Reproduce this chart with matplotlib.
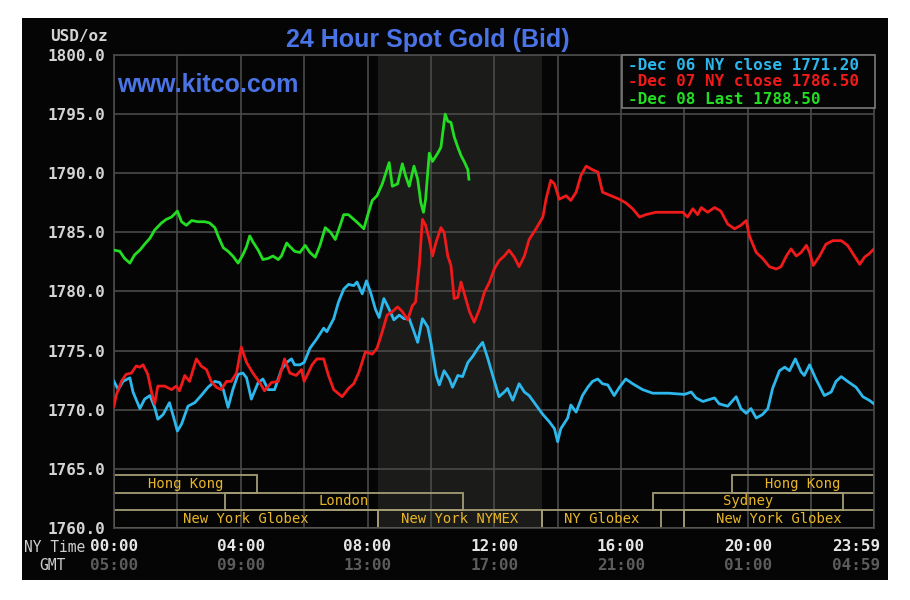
import matplotlib
matplotlib.use("Agg")
import matplotlib.pyplot as plt
from matplotlib.patches import Rectangle
from matplotlib import transforms

# Dec 06 NY close series (cyan)
dec06_times = ["00:00", "00:08", "00:17", "00:30", "00:36", "00:49", "00:58", "01:08", "01:17", "01:23",
               "01:33", "01:45", "01:52", "02:00", "02:08", "02:20", "02:33", "02:45", "02:58", "03:11",
               "03:20", "03:27", "03:36", "03:45", "03:55", "04:04", "04:11", "04:20", "04:33", "04:42",
               "04:52", "05:04", "05:17", "05:27", "05:36", "05:42", "05:52", "06:00", "06:11", "06:24",
               "06:37", "06:43", "06:56", "07:05", "07:15", "07:24", "07:34", "07:40", "07:50", "07:58",
               "08:06", "08:15", "08:22", "08:31", "08:41", "08:50", "09:00", "09:09", "09:19", "09:28",
               "09:35", "09:44", "09:54", "10:00", "10:10", "10:16", "10:25", "10:35", "10:41", "10:51",
               "11:00", "11:10", "11:19", "11:29", "11:38", "11:48", "11:57", "12:09", "12:19", "12:25",
               "12:35", "12:47", "12:57", "13:06", "13:19", "13:32", "13:44", "13:54", "14:00", "14:06",
               "14:19", "14:25", "14:35", "14:47", "14:57", "15:06", "15:16", "15:25", "15:35", "15:47",
               "15:57", "16:09", "16:22", "16:41", "17:00", "17:30", "18:00", "18:13", "18:22", "18:35",
               "18:57", "19:06", "19:22", "19:38", "19:47", "19:57", "20:06", "20:16", "20:28", "20:38",
               "20:47", "21:00", "21:10", "21:19", "21:30", "21:41", "21:47", "21:57", "22:09", "22:25",
               "22:38", "22:47", "22:57", "23:09", "23:25", "23:38", "23:50", "23:59"]
dec06_values = [1772.4, 1771.7, 1772.4, 1772.7, 1771.5, 1770.1, 1770.9, 1771.2, 1770.2, 1769.2,
                1769.6, 1770.6, 1769.5, 1768.2, 1768.8, 1770.3, 1770.6, 1771.2, 1771.9, 1772.4,
                1772.3, 1771.7, 1770.2, 1771.7, 1773.0, 1773.1, 1772.7, 1770.9, 1772.3, 1772.6,
                1771.7, 1771.7, 1773.4, 1774.0, 1774.3, 1773.8, 1773.8, 1774.0, 1775.2, 1776.0,
                1776.9, 1776.6, 1777.7, 1779.1, 1780.2, 1780.6, 1780.5, 1780.8, 1779.8, 1780.9,
                1779.9, 1778.5, 1777.8, 1779.4, 1778.5, 1777.6, 1778.0, 1777.7, 1777.7, 1776.6,
                1775.7, 1777.7, 1777.0, 1775.7, 1772.9, 1772.1, 1773.3, 1772.6, 1771.9, 1772.9,
                1772.8, 1774.0, 1774.5, 1775.2, 1775.7, 1774.3, 1772.9, 1771.1, 1771.5, 1771.8,
                1770.8, 1772.2, 1771.5, 1771.2, 1770.4, 1769.6, 1769.0, 1768.4, 1767.3, 1768.4,
                1769.3, 1770.4, 1769.8, 1771.2, 1771.9, 1772.4, 1772.6, 1772.2, 1772.1, 1771.2,
                1771.9, 1772.6, 1772.2, 1771.7, 1771.4, 1771.4, 1771.3, 1771.5, 1771.0, 1770.7,
                1771.0, 1770.5, 1770.3, 1771.1, 1770.1, 1769.7, 1770.1, 1769.3, 1769.6, 1770.1,
                1771.8, 1773.3, 1773.6, 1773.3, 1774.3, 1773.2, 1772.9, 1773.8, 1772.6, 1771.2,
                1771.5, 1772.4, 1772.8, 1772.4, 1771.9, 1771.1, 1770.8, 1770.5]

# Dec 07 NY close series (red)
dec07_times = ["00:00", "00:04", "00:14", "00:23", "00:33", "00:42", "00:49", "00:55", "01:04", "01:11",
               "01:17", "01:23", "01:36", "01:49", "01:58", "02:04", "02:14", "02:23", "02:36", "02:45",
               "02:55", "03:04", "03:14", "03:23", "03:33", "03:42", "03:52", "04:01", "04:11", "04:23",
               "04:36", "04:45", "04:58", "05:11", "05:23", "05:33", "05:45", "05:55", "06:00", "06:15",
               "06:24", "06:37", "06:46", "06:56", "07:12", "07:24", "07:34", "07:44", "07:56", "08:09",
               "08:18", "08:28", "08:37", "08:47", "08:57", "09:06", "09:16", "09:25", "09:31", "09:38",
               "09:44", "09:50", "09:57", "10:03", "10:10", "10:19", "10:25", "10:32", "10:38", "10:44",
               "10:51", "10:57", "11:04", "11:13", "11:22", "11:32", "11:41", "11:51", "12:00", "12:09",
               "12:19", "12:28", "12:38", "12:47", "12:57", "13:06", "13:19", "13:32", "13:38", "13:47",
               "13:54", "14:03", "14:16", "14:25", "14:35", "14:44", "14:54", "15:06", "15:16", "15:25",
               "15:41", "15:57", "16:09", "16:22", "16:35", "16:47", "17:06", "17:32", "17:57", "18:06",
               "18:16", "18:25", "18:32", "18:44", "18:57", "19:09", "19:22", "19:35", "19:47", "19:57",
               "20:03", "20:16", "20:28", "20:41", "20:54", "21:03", "21:13", "21:22", "21:32", "21:41",
               "21:51", "21:57", "22:04", "22:16", "22:28", "22:41", "22:57", "23:09", "23:22", "23:32",
               "23:41", "23:50", "23:59"]
dec07_values = [1770.3, 1771.2, 1772.4, 1773.0, 1773.1, 1773.7, 1773.6, 1773.8, 1773.0, 1771.5,
                1770.5, 1772.0, 1772.0, 1771.7, 1772.0, 1771.6, 1772.9, 1772.4, 1774.3, 1773.7,
                1773.4, 1772.4, 1771.9, 1771.7, 1772.4, 1772.4, 1773.1, 1775.3, 1774.0, 1773.1,
                1772.3, 1771.6, 1772.3, 1772.4, 1774.3, 1773.1, 1772.9, 1773.4, 1772.4, 1773.8,
                1774.3, 1774.3, 1772.9, 1771.7, 1771.1, 1771.8, 1772.2, 1773.2, 1774.9, 1774.7,
                1775.2, 1776.6, 1778.0, 1778.3, 1778.7, 1778.3, 1777.6, 1778.8, 1779.1, 1782.2,
                1786.1, 1785.6, 1784.4, 1783.0, 1784.2, 1785.4, 1785.0, 1783.0, 1782.2, 1779.4,
                1779.5, 1780.8, 1779.7, 1778.3, 1777.4, 1778.5, 1779.9, 1780.8, 1781.9, 1782.6,
                1783.0, 1783.5, 1782.9, 1782.1, 1783.0, 1784.4, 1785.3, 1786.3, 1787.8, 1789.4,
                1789.1, 1787.8, 1788.1, 1787.7, 1788.4, 1789.8, 1790.6, 1790.3, 1790.1, 1788.4,
                1788.1, 1787.8, 1787.5, 1787.0, 1786.3, 1786.5, 1786.7, 1786.7, 1786.7, 1786.3,
                1787.0, 1786.5, 1787.1, 1786.7, 1787.1, 1786.8, 1785.7, 1785.3, 1785.6, 1786.0,
                1784.7, 1783.3, 1782.8, 1782.1, 1781.9, 1782.1, 1783.0, 1783.6, 1783.0, 1783.3,
                1783.9, 1783.3, 1782.2, 1783.0, 1784.0, 1784.3, 1784.3, 1783.9, 1783.0, 1782.3,
                1782.9, 1783.2, 1783.6]

# Dec 08 last series (green)
dec08_times = ["00:00", "00:11", "00:20", "00:30", "00:39", "00:49", "00:58", "01:08", "01:17", "01:30",
               "01:39", "01:49", "02:00", "02:08", "02:17", "02:27", "02:39", "02:52", "03:01", "03:11",
               "03:17", "03:27", "03:36", "03:45", "03:55", "04:04", "04:11", "04:17", "04:23", "04:33",
               "04:42", "04:52", "05:01", "05:11", "05:17", "05:27", "05:33", "05:42", "05:52", "06:02",
               "06:11", "06:21", "06:30", "06:40", "06:50", "06:59", "07:09", "07:15", "07:24", "07:34",
               "07:44", "07:53", "08:00", "08:09", "08:18", "08:28", "08:41", "08:47", "08:57", "09:06",
               "09:12", "09:19", "09:28", "09:35", "09:41", "09:46", "09:50", "09:57", "10:03", "10:13",
               "10:19", "10:27", "10:32", "10:38", "10:44", "10:51", "10:57", "11:04", "11:10", "11:12"]
dec08_values = [1783.5, 1783.4, 1782.8, 1782.4, 1783.1, 1783.5, 1784.0, 1784.5, 1785.2, 1785.8,
                1786.1, 1786.3, 1786.8, 1785.9, 1785.6, 1786.0, 1785.9, 1785.9, 1785.8, 1785.4,
                1784.7, 1783.7, 1783.4, 1783.0, 1782.4, 1783.1, 1783.8, 1784.7, 1784.2, 1783.5,
                1782.7, 1782.8, 1783.0, 1782.7, 1783.0, 1784.1, 1783.8, 1783.4, 1783.3, 1783.9,
                1783.3, 1782.9, 1783.9, 1785.4, 1785.0, 1784.4, 1785.7, 1786.5, 1786.5, 1786.1,
                1785.7, 1785.3, 1786.4, 1787.7, 1788.1, 1789.1, 1790.9, 1788.9, 1789.1, 1790.8,
                1789.8, 1788.9, 1790.6, 1789.5, 1787.5, 1786.7, 1787.8, 1791.7, 1791.0, 1791.7,
                1792.2, 1795.0, 1794.4, 1794.3, 1793.1, 1792.2, 1791.5, 1790.9, 1790.3, 1789.5]

legend_labels = ["-Dec 06 NY close 1771.20", "-Dec 07 NY close 1786.50", "-Dec 08 Last 1788.50"]
line_colors = ["#2cb8ec", "#f01a1a", "#22dd22"]

# trading sessions drawn along the bottom of the chart
session_names = ["Hong Kong", "London", "New York Globex", "New York NYMEX", "NY Globex",
                 "New York Globex", "Sydney", "Hong Kong"]
session_starts = ["00:00", "03:30", "00:00", "08:20", "13:30", "18:00", "17:00", "19:30"]
session_ends = ["04:30", "11:00", "08:20", "13:30", "17:15", "23:59", "23:00", "23:59"]
session_rows = [2, 1, 0, 0, 0, 0, 1, 2]

ny_ticks = ["00:00", "04:00", "08:00", "12:00", "16:00", "20:00", "23:59"]
gmt_ticks = ["05:00", "09:00", "13:00", "17:00", "21:00", "01:00", "04:59"]
y_ticks = [1760, 1765, 1770, 1775, 1780, 1785, 1790, 1795, 1800]


def hours(s):
    h, m = s.split(":")
    return int(h) + int(m) / 60.0


W, H = 910, 600
MONO = "DejaVu Sans Mono"
BLUE = "#4a74e6"
GRID = "#4a4a4a"

fig = plt.figure(figsize=(W / 100, H / 100), dpi=100, facecolor="white")

# black chart panel (behind the axes)
fig.patches.append(Rectangle((22 / W, 20 / H), 866 / W, 562 / H, transform=fig.transFigure,
                             facecolor="#050505", edgecolor="none", zorder=-10))

ax = fig.add_axes([114 / W, 72 / H, 760 / W, 473 / H])
ax.set_zorder(1)
ax.set_facecolor("#050505")
xmax = hours("23:59")
ax.set_xlim(0, xmax)
ax.set_ylim(1760, 1800)

# NYMEX hours shading
ax.axvspan(hours("08:20"), hours("13:30"), color="#1b1b19", zorder=0, lw=0)

ax.set_xticks(range(0, 24, 2))
ax.set_xticklabels([])
ax.set_yticks(y_ticks)
ax.set_yticklabels([f"{v:.1f}" for v in y_ticks], fontfamily=MONO, fontweight="bold",
                   fontsize=11.5, color="#d4d4d4")
ax.tick_params(axis="both", length=0, pad=6)
ax.grid(True, color=GRID, lw=1.2, zorder=1)
ax.set_axisbelow(True)
for sp in ax.spines.values():
    sp.set_color(GRID)
    sp.set_linewidth(1.2)

# session boxes
row_h = 1.5
for name, s, e, r in zip(session_names, session_starts, session_ends, session_rows):
    x0, x1 = hours(s), hours(e)
    y0 = 1760 + r * row_h
    ax.add_patch(Rectangle((x0, y0), x1 - x0, row_h, facecolor="none",
                           edgecolor="#a49c74", lw=1.3, zorder=2))
    ax.text((x0 + x1) / 2, y0 + row_h / 2, name, ha="center", va="center",
            fontfamily=MONO, fontsize=10, color="#e8b628", zorder=3)

# price lines
for t, v, c in [(dec06_times, dec06_values, line_colors[0]),
                (dec07_times, dec07_values, line_colors[1]),
                (dec08_times, dec08_values, line_colors[2])]:
    ax.plot([hours(x) for x in t], v, color=c, lw=2.0, zorder=4)

# x labels: NY time and GMT rows
btrans = transforms.blended_transform_factory(ax.transData, ax.transAxes)
for i, (ny, gmt) in enumerate(zip(ny_ticks, gmt_ticks)):
    x = hours(ny)
    ha = "right" if i == len(ny_ticks) - 1 else "center"
    dx = 4.5 if ha == "right" else 0
    ax.annotate(ny, xy=(x, 0), xycoords=btrans, xytext=(dx, -13), textcoords="offset points",
                ha=ha, va="center", fontfamily=MONO, fontweight="bold", fontsize=11.5,
                color="#e6e6e6", annotation_clip=False)
    ax.annotate(gmt, xy=(x, 0), xycoords=btrans, xytext=(dx, -27), textcoords="offset points",
                ha=ha, va="center", fontfamily=MONO, fontweight="bold", fontsize=11.5,
                color="#5c5c5c", annotation_clip=False)

fig.text(55 / W, 1 - 547 / H, "NY Time", ha="center", va="center", fontfamily=MONO,
         fontsize=10.5, color="#cfcfcf")
fig.text(52 / W, 1 - 565 / H, "GMT", ha="center", va="center", fontfamily=MONO,
         fontsize=10.5, color="#cfcfcf")

# header texts
fig.text(108 / W, 1 - 36 / H, "USD/oz", ha="right", va="center", fontfamily=MONO,
         fontweight="bold", fontsize=11.5, color="#d4d4d4")
fig.text(428 / W, 1 - 40 / H, "24 Hour Spot Gold (Bid)", ha="center", va="center",
         fontfamily="Liberation Sans", fontweight="bold", fontsize=18, color=BLUE)
fig.text(117 / W, 1 - 85 / H, "www.kitco.com", ha="left", va="center",
         fontfamily="Liberation Sans", fontweight="bold", fontsize=18, color=BLUE, zorder=5)

# legend box
fig.patches.append(Rectangle((622 / W, 1 - 108 / H), 253 / W, 53 / H, transform=fig.transFigure,
                             facecolor="#050505", edgecolor="#7a7a7a", lw=1.2, zorder=5))
for i, (lab, c) in enumerate(zip(legend_labels, line_colors)):
    fig.text(628 / W, 1 - (65 + i * 17) / H, lab, ha="left", va="center", fontfamily=MONO,
             fontweight="bold", fontsize=11.5, color=c, zorder=6)

fig.savefig("out.png", dpi=100, facecolor="white")
